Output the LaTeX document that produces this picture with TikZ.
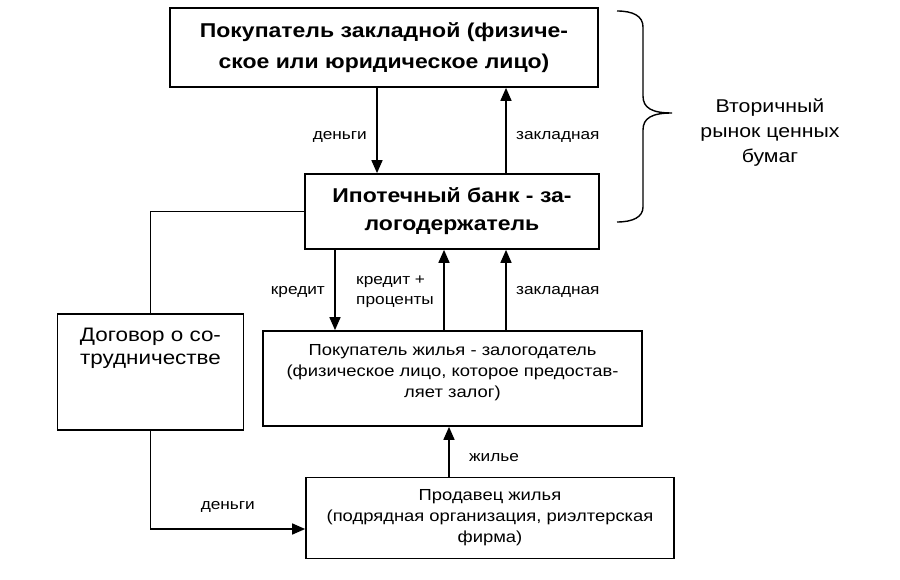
\documentclass[tikz,border=0pt]{standalone}
\usepackage{fontspec}
\setmainfont{Liberation Sans}[FakeStretch=1.15]
\usetikzlibrary{arrows.meta, positioning}
\newcommand{\fsTop}{\fontsize{20pt}{31pt}\selectfont\bfseries}
\newcommand{\fsBank}{\fontsize{20pt}{28pt}\selectfont\bfseries}
\newcommand{\fsNote}{\fontsize{18.5pt}{25pt}\selectfont}
\newcommand{\fsDeal}{\fontsize{19.5pt}{23pt}\selectfont}
\newcommand{\fsBox}{\fontsize{16pt}{21pt}\selectfont}
\newcommand{\fsLbl}{\fontsize{15pt}{20pt}\selectfont}

\begin{document}
\begin{tikzpicture}[x=1pt, y=-1pt,
	box/.style={rectangle, draw, line width=1.7pt, align=center},
	lbl/.style={font=\fsLbl, align=center},
	arr/.style={line width=1.6pt, -{Triangle[length=13pt, width=11pt]}}]
		\fill[white] (0,0) rectangle (900,580);
		\useasboundingbox (0,0) rectangle (900,580);
		\node at (384,47.5) [box, font=\fsTop, minimum width=428pt, minimum height=79pt] (buyer) {Покупатель закладной (физиче-\\ское или юридическое лицо)};
		\node at (452,211.5) [box, font=\fsBank, minimum width=294pt, minimum height=75pt] (bank) {Ипотечный банк - за-\\логодержатель};
		\node at (150.5,372) [box, minimum width=186pt, minimum height=116pt] (deal) {};
		\node [below=11pt of deal.north, font=\fsDeal, align=center] (dealtext) {Договор о со-\\трудничестве};
		\node at (452.5,378.5) [box, font=\fsBox, text depth=15pt, minimum width=379pt, minimum height=95pt] (home) {Покупатель жилья - залогодатель\\(физическое лицо, которое предостав-\\ляет залог)};
		\node at (490,518) [box, font=\fsBox, minimum width=368pt, minimum height=81pt] (seller) {Продавец жилья\\(подрядная организация, риэлтерская\\фирма)};
		\node at (770,133) [font=\fsNote, align=center] (market) {Вторичный\\рынок ценных\\бумаг};
		% columns of the arrows
		\coordinate (xa) at (377,0);
		\coordinate (xb) at (506,0);
		\coordinate (xc) at (335,0);
		\coordinate (xd) at (444,0);
		\coordinate (xe) at (449,0);
		\draw[arr] (xa |- buyer.south) -- (xa |- bank.north) node[lbl, left=6pt, pos=0.575] {деньги};
		\draw[arr] (xb |- bank.north) -- (xb |- buyer.south) node[lbl, right=6pt, pos=0.425] {закладная};
		\draw[arr] (xc |- bank.south) -- (xc |- home.north) node[lbl, left=6pt, pos=0.52] {кредит};
		\draw[arr] (xd |- home.north) -- (xd |- bank.south) node[lbl, align=left, left=6pt, pos=0.48] {кредит +\\проценты};
		\draw[arr] (xb |- home.north) -- (xb |- bank.south) node[lbl, right=6pt, pos=0.48] {закладная};
		\draw[arr] (xe |- seller.north) -- (xe |- home.south) node[lbl, right=16pt, pos=0.39] {жилье};
		\draw[line width=1.6pt] (bank.west) -| (deal.north);
		\draw[arr] (deal.south) |- ([yshift=-11pt]seller.west) node[lbl, above=12pt, pos=0.75] {деньги};
		% brace
		\draw[line width=1.4pt] (617,11) .. controls (633,11) and (643,16) .. (643,27) -- (643,96)
			.. controls (643,108) and (652,113) .. (672,113)
			.. controls (652,113) and (643,118) .. (643,130) -- (643,207)
			.. controls (643,217) and (633,222) .. (617,222);
		\end{tikzpicture}
\end{document}
